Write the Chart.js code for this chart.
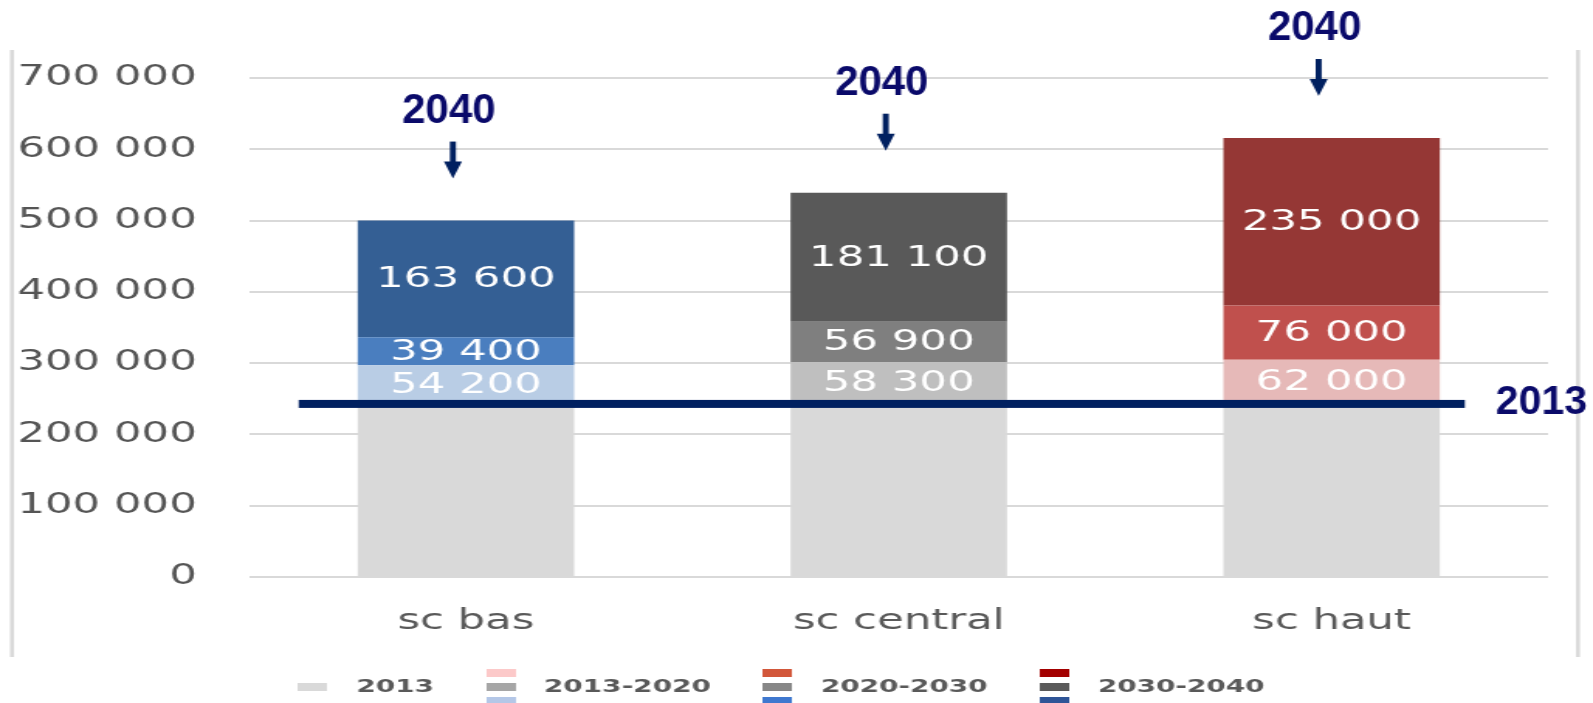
<!DOCTYPE html>
<html>
<head>
<meta charset="utf-8">
<script src="https://cdn.jsdelivr.net/npm/chart.js@4.4.0/dist/chart.umd.min.js"></script>
<style>
  html, body { margin: 0; padding: 0; background: #fff; overflow: hidden; }
  /* the source picture is stretched sideways, so the chart is too */
  #wrap { width: 1028px; height: 703px; transform: scale(1.5496, 1); transform-origin: 0 0; }
</style>
</head>
<body>
<div id="wrap"><canvas id="myChart"></canvas></div>
<script>
var categories = ["sc bas", "sc central", "sc haut"];
var base2013 = [242800, 242800, 242800];
var growth2013_2020 = [54200, 58300, 62000];
var growth2020_2030 = [39400, 56900, 76000];
var growth2030_2040 = [163600, 181100, 235000];
var yMin = 0, yMax = 700000, yStep = 100000;
var seriesNames = ["2013", "2013-2020", "2020-2030", "2030-2040"];
var topLabel = "2040";
var lineLabel = "2013";

var STRETCH = 1593 / 1028;

function fmt(v) {
  return String(v).replace(/\B(?=(\d{3})+(?!\d))/g, " ");
}

// little stacked swatches for the legend
function swatch(colors) {
  var c = document.createElement("canvas");
  var w = 19, h = 8, gap = 6;
  c.width = w;
  c.height = colors.length * h + (colors.length - 1) * gap;
  var g = c.getContext("2d");
  colors.forEach(function (col, i) {
    g.fillStyle = col;
    g.fillRect(0, i * (h + gap), w, h);
  });
  return c;
}

var swatches = [
  swatch(["#d9d9d9"]),
  swatch(["#fcc9c9", "#a6a6a6", "#b4c7e7"]),
  swatch(["#d2573a", "#878787", "#3f78cf"]),
  swatch(["#a30000", "#5a5a5a", "#2f5597"])
];

var data = {
  labels: categories,
  datasets: [
    { label: seriesNames[0], data: base2013, backgroundColor: ["#d9d9d9", "#d9d9d9", "#d9d9d9"] },
    { label: seriesNames[1], data: growth2013_2020, backgroundColor: ["#b9cde5", "#bfbfbf", "#e6b9b8"] },
    { label: seriesNames[2], data: growth2020_2030, backgroundColor: ["#4a7ebf", "#7f7f7f", "#c0504d"] },
    { label: seriesNames[3], data: growth2030_2040, backgroundColor: ["#345f94", "#595959", "#953735"] }
  ]
};

var segmentLabels = {
  id: "segmentLabels",
  afterDatasetsDraw: function (chart) {
    var ctx = chart.ctx;
    ctx.save();
    ctx.font = "28px 'DejaVu Sans'";
    ctx.fillStyle = "#ffffff";
    ctx.textAlign = "center";
    ctx.textBaseline = "middle";
    chart.data.datasets.forEach(function (ds, i) {
      if (i === 0) return;
      chart.getDatasetMeta(i).data.forEach(function (bar, j) {
        ctx.fillText(fmt(ds.data[j]), bar.x, (bar.y + bar.base) / 2 + 1);
      });
    });
    ctx.restore();
  }
};

var markers = {
  id: "markers",
  beforeDraw: function (chart) {
    var ctx = chart.ctx;
    ctx.save();
    ctx.scale(1 / STRETCH, 1);
    ctx.fillStyle = "#d9d9d9";
    ctx.fillRect(10, 50, 4, 607);
    ctx.fillRect(1576, 50, 4, 607);
    ctx.restore();
  },
  afterDatasetsDraw: function (chart) {
    var ctx = chart.ctx;
    var yScale = chart.scales.y;
    var baseBars = chart.getDatasetMeta(0).data;
    var topBars = chart.getDatasetMeta(chart.data.datasets.length - 1).data;
    ctx.save();
    ctx.scale(1 / STRETCH, 1);

    // 2013 level line
    var first = baseBars[0], last = baseBars[baseBars.length - 1];
    var ly = yScale.getPixelForValue(base2013[0]);
    var x0 = (first.x - first.width / 2) * STRETCH - 59;
    var x1 = (last.x + last.width / 2) * STRETCH + 25;
    ctx.fillStyle = "#002060";
    ctx.fillRect(x0, ly - 4, x1 - x0, 8);
    ctx.font = "bold 41px 'Liberation Sans'";
    ctx.fillStyle = "#0a0a6a";
    ctx.textAlign = "left";
    ctx.textBaseline = "alphabetic";
    ctx.fillText(lineLabel, x1 + 31, ly + 10);

    // 2040 arrows on top of each stack
    ctx.font = "bold 42px 'Liberation Sans'";
    topBars.forEach(function (bar) {
      var cx = bar.x * STRETCH;
      var tip = bar.y - 42;
      var ax = cx - 13;
      ctx.fillStyle = "#002060";
      ctx.fillRect(ax - 3, tip - 37, 6, 21);
      ctx.beginPath();
      ctx.moveTo(ax - 9, tip - 17);
      ctx.lineTo(ax + 9, tip - 17);
      ctx.lineTo(ax, tip);
      ctx.closePath();
      ctx.fill();
      ctx.fillStyle = "#0a0a6a";
      ctx.textAlign = "center";
      ctx.fillText(topLabel, cx - 17, tip - 56);
    });
    ctx.restore();
  }
};

var config = {
  type: "bar",
  data: data,
  options: {
    responsive: true,
    maintainAspectRatio: false,
    animation: false,
    devicePixelRatio: 1,
    layout: { padding: { top: 78, right: 29, bottom: -3, left: 0 } },
    datasets: { bar: { barPercentage: 0.5, categoryPercentage: 1.0 } },
    scales: {
      x: {
        stacked: true,
        grid: { display: false, drawTicks: false },
        border: { display: false },
        ticks: { color: "#595959", padding: 28, font: { family: "DejaVu Sans", size: 28 } },
        afterFit: function (scale) { scale.height = 77; }
      },
      y: {
        stacked: true,
        min: yMin,
        max: yMax,
        grid: { color: "#d9d9d9", lineWidth: 2, drawTicks: false },
        border: { display: false },
        ticks: {
          stepSize: yStep,
          color: "#555555",
          padding: 34,
          font: { family: "DejaVu Sans", size: 28 },
          callback: function (v) { return fmt(v); }
        },
        afterFit: function (scale) { scale.width = 161; }
      }
    },
    plugins: {
      tooltip: { enabled: false },
      legend: {
        position: "bottom",
        labels: {
          usePointStyle: true,
          pointStyleWidth: 38,
          padding: 24,
          color: "#595959",
          font: { family: "DejaVu Sans", size: 18, weight: "bold" },
          generateLabels: function (chart) {
            return chart.data.datasets.map(function (ds, i) {
              return {
                text: ds.label,
                pointStyle: swatches[i],
                fillStyle: "transparent",
                strokeStyle: "transparent",
                lineWidth: 0,
                hidden: false,
                datasetIndex: i,
                fontColor: "#595959"
              };
            });
          }
        }
      }
    }
  },
  plugins: [segmentLabels, markers]
};

var myChart = new Chart(document.getElementById("myChart"), config);
</script>
</body>
</html>
